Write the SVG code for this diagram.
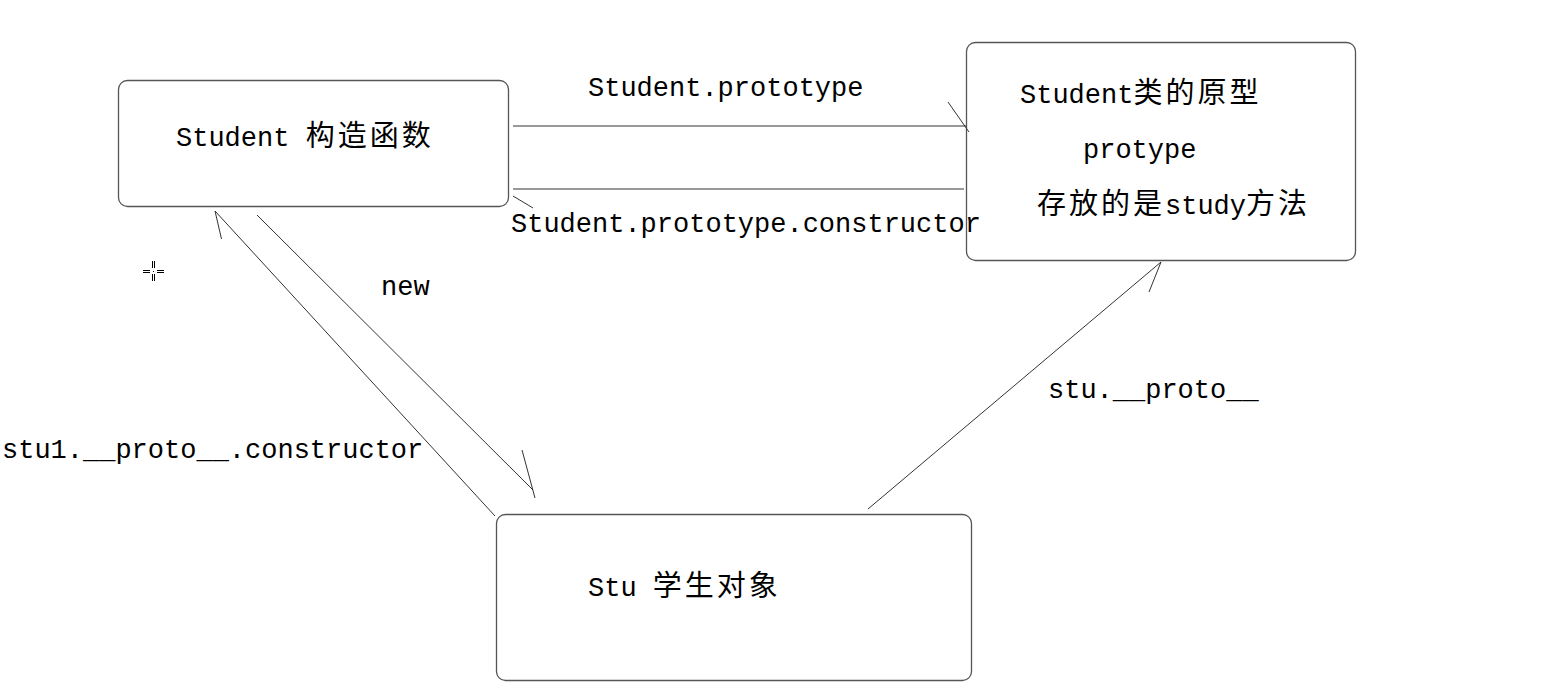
<svg xmlns="http://www.w3.org/2000/svg" width="1551" height="699" viewBox="0 0 1551 699">
<style>
.box{fill:#fff;stroke:#555;stroke-width:1.3}
.ln{stroke:#333;stroke-width:1;fill:none}
text{font-family:"Liberation Mono","Noto Sans CJK SC",monospace;font-size:27px;fill:#000}
.cj{font-family:"Noto Sans CJK SC",sans-serif;font-size:29px;letter-spacing:3px}
.cur{stroke:#000;stroke-width:1;fill:none}
</style>
<rect width="1551" height="699" fill="#fff"/>
<g id="node-constructor">
<rect class="box" x="118.5" y="80.5" width="390" height="126" rx="9"/>
<text x="176" y="146">Student <tspan class="cj">构造函数</tspan></text>
</g>
<g id="node-prototype">
<rect class="box" x="966.5" y="42.5" width="389" height="218" rx="9"/>
<text x="1020" y="103">Student<tspan class="cj">类的原型</tspan></text>
<text x="1083" y="158">protype</text>
<text x="1037" y="214"><tspan class="cj">存放的是</tspan>study<tspan class="cj">方法</tspan></text>
</g>
<g id="node-instance">
<rect class="box" x="496.5" y="514.5" width="475" height="166" rx="9"/>
<text x="588" y="596">Stu <tspan class="cj">学生对象</tspan></text>
</g>
<g id="connectors">
<line class="ln" x1="513" y1="126" x2="966" y2="126"/>
<line class="ln" x1="948" y1="102" x2="969" y2="132"/>
<line class="ln" x1="513" y1="189" x2="964" y2="189"/>
<line class="ln" x1="513" y1="196" x2="533" y2="208"/>
<line class="ln" x1="495" y1="516" x2="215" y2="211"/>
<line class="ln" x1="215" y1="211" x2="221.5" y2="239"/>
<line class="ln" x1="257" y1="215" x2="533" y2="490"/>
<line class="ln" x1="522" y1="450" x2="535" y2="498"/>
<line class="ln" x1="868" y1="509" x2="1161" y2="262"/>
<line class="ln" x1="1161" y1="262" x2="1149" y2="292"/>
</g>
<g id="labels">
<text x="588" y="96">Student.prototype</text>
<text x="511" y="232">Student.prototype.constructor</text>
<text x="381" y="295">new</text>
<text x="2" y="458">stu1.__proto__.constructor</text>
<text x="1048" y="398">stu.__proto__</text>
</g>
<g id="cursor">
<line class="cur" x1="152.5" y1="261" x2="152.5" y2="268"/>
<line class="cur" x1="154.5" y1="261" x2="154.5" y2="268"/>
<line class="cur" x1="152.5" y1="274" x2="152.5" y2="281"/>
<line class="cur" x1="154.5" y1="274" x2="154.5" y2="281"/>
<line class="cur" x1="143" y1="270.5" x2="150" y2="270.5"/>
<line class="cur" x1="143" y1="272.5" x2="150" y2="272.5"/>
<line class="cur" x1="157" y1="270.5" x2="164" y2="270.5"/>
<line class="cur" x1="157" y1="272.5" x2="164" y2="272.5"/>
<rect x="153" y="271" width="1" height="1" fill="#000"/>
</g>
</svg>
